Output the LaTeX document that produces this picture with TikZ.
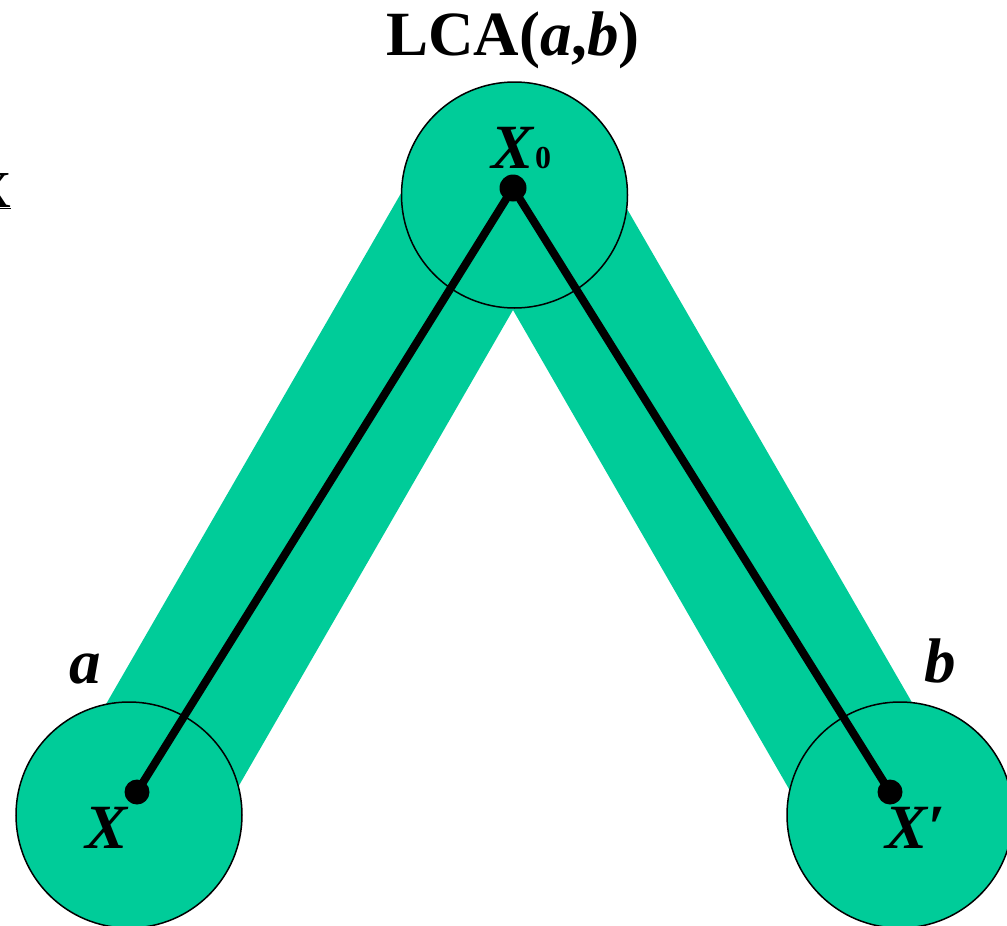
\documentclass[tikz,border=0pt]{standalone}
\usepackage{fontspec}
\setmainfont{Liberation Serif}
\definecolor{band}{RGB}{0,204,153}
\begin{document}
\begin{tikzpicture}[x=1pt,y=-1pt,
  bigcirc/.style={circle,draw=black,line width=1.5pt,fill=band,minimum size=226pt,inner sep=0pt},
  dotnode/.style={circle,fill=black,inner sep=0pt,minimum size=#1},
  edge/.style={line width=8pt},
  lbl/.style={font=\fontsize{63}{63}\selectfont\bfseries\itshape,inner sep=0pt,anchor=base}]
\useasboundingbox (0,0) rectangle (1007,926);
\clip (0,0) rectangle (1007,926);
% bands
\fill[band] (426,150) -- (513,150) -- (513,310) -- (222,815) -- (42,815) -- cycle;
\fill[band] (513,150) -- (593,150) -- (977,815) -- (804,815) -- (513,310) -- cycle;
% circles
\node[bigcirc] (top) at (514.5,195) {};
\node[bigcirc] (left) at (129,815) {};
\node[bigcirc] (right) at (900,815) {};
% dots
\node[dotnode=27pt] (x0) at (513,188) {};
\node[dotnode=25pt] (x) at (137,792) {};
\node[dotnode=25pt] (xp) at (890,792) {};
\draw[edge] (x0.center) -- (x.center);
\draw[edge] (x0.center) -- (xp.center);
% labels
\node[inner sep=0pt,anchor=base,font=\fontsize{63}{63}\selectfont\bfseries] (lca) at (513,55) {LCA(\textit{a},\textit{b})};
\node[lbl] (la) at (85,683) {a};
\node[lbl] (lb) at (940,682) {b};
\node[lbl] (lx) at (107,848) {X};
\node[lbl,anchor=base west] (lxp) at (885,848) {X′};
\node[lbl,anchor=base west] (lx0) at (491,168) {X\kern2pt{\fontsize{32}{32}\selectfont\upshape 0}};
\node[inner sep=0pt,anchor=base,font=\fontsize{74}{74}\selectfont] (cut) at (-7,207) {\underline{x}};
\end{tikzpicture}
\end{document}
